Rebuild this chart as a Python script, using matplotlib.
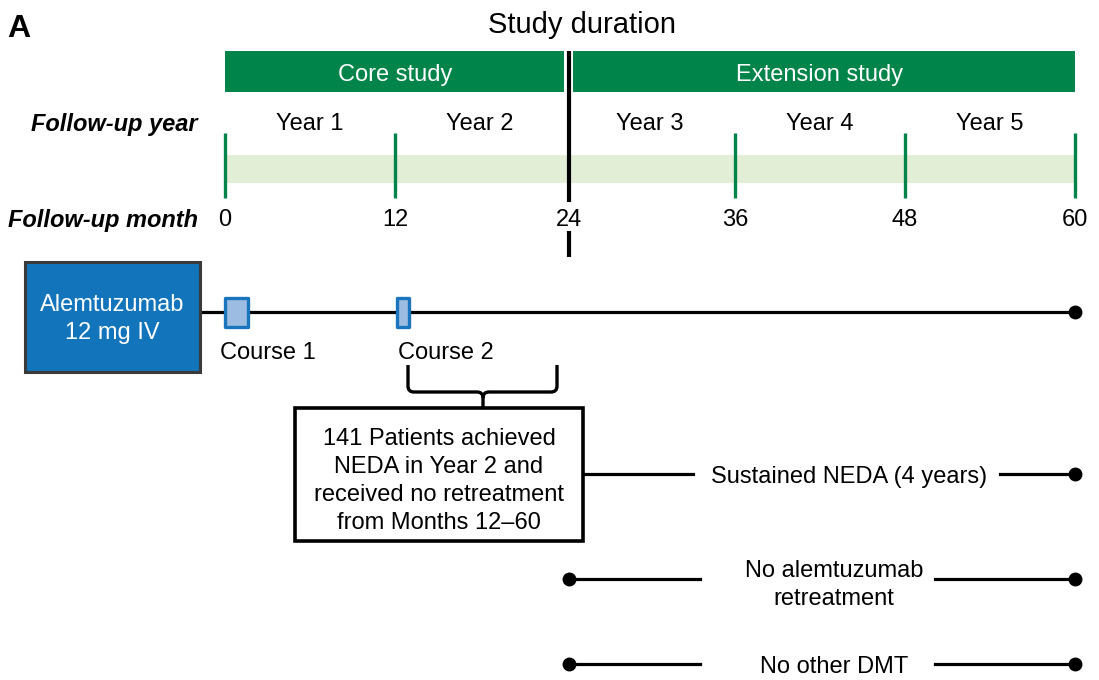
import matplotlib
matplotlib.use('Agg')
import matplotlib.pyplot as plt
from matplotlib.patches import Rectangle, PathPatch
from matplotlib.path import Path

plt.rcParams['font.family'] = ['Liberation Sans', 'DejaVu Sans']

# ---- data ----
month_ticks = [0, 12, 24, 36, 48, 60]
year_labels = ['Year 1', 'Year 2', 'Year 3', 'Year 4', 'Year 5']
phase_labels = ['Core study', 'Extension study']
phase_start = [0, 24]
phase_end = [24, 60]
course_labels = ['Course 1', 'Course 2']
course_start = [0, 12.15]
course_len = [1.6, 0.85]
outcome_labels = ['Sustained NEDA (4 years)', 'No alemtuzumab\nretreatment', 'No other DMT']
box_text = '141 Patients achieved\nNEDA in Year 2 and\nreceived no retreatment\nfrom Months 12\u201360'
divider_month = 24

# ---- styling / layout helpers ----
DARK_GREEN = '#00844A'
LIGHT_GREEN = '#E2EFD6'
BLUE = '#1274BB'
FS = 17
PX_PER_MONTH = 850 / 60
DY = 3  # vertical text offset


def px(x):
    """convert a horizontal pixel position of the layout into months"""
    return (x - 225) / PX_PER_MONTH


fig = plt.figure(figsize=(10.99, 6.8), dpi=100)
ax = fig.add_axes([0, 0, 1, 1])
ax.set_xlim(px(0), px(1099))
ax.set_ylim(680, 0)
ax.axis('off')

div_x = divider_month + 0.25

# titles
ax.text(px(7), 29, 'A', fontsize=23, fontweight='bold', ha='left', va='center')
ax.text(px(582), 22 + DY, 'Study duration', fontsize=21, ha='center', va='center')

# phase bars
for lab, s, e in zip(phase_labels, phase_start, phase_end):
    left = s if s == 0 else s + 0.55
    right = e if e == 60 else e - 0.05
    ax.add_patch(Rectangle((left, 51), right - left, 41, fc=DARK_GREEN, ec='none', zorder=2))
    ax.text((s + e) / 2, 72 + DY, lab, color='white', fontsize=FS, ha='center', va='center', zorder=3)

# year labels
years_mid = [(a + b) / 2 for a, b in zip(month_ticks[:-1], month_ticks[1:])]
for lab, m in zip(year_labels, years_mid):
    ax.text(m, 121 + DY, lab, fontsize=FS, ha='center', va='center')
ax.text(px(198), 121 + DY, 'Follow-up year', fontsize=FS, fontweight='bold', style='italic',
        ha='right', va='center')
ax.text(px(198), 217 + DY, 'Follow-up month', fontsize=FS, fontweight='bold', style='italic',
        ha='right', va='center')

# band + ticks
ax.add_patch(Rectangle((month_ticks[0], 155), month_ticks[-1] - month_ticks[0], 28,
                       fc=LIGHT_GREEN, ec='none', zorder=1))
for m in month_ticks:
    if m != divider_month:
        ax.plot([m, m], [133, 198], color=DARK_GREEN, lw=2.4, solid_capstyle='butt', zorder=2)
        ax.text(m, 217 + DY, str(m), fontsize=FS, ha='center', va='center')
    else:
        ax.text(div_x, 217 + DY, str(m), fontsize=FS, ha='center', va='center')

# divider line
ax.plot([div_x, div_x], [51, 202], color='black', lw=3.0, solid_capstyle='butt', zorder=4)
ax.plot([div_x, div_x], [231, 257], color='black', lw=3.0, solid_capstyle='butt', zorder=4)

# alemtuzumab box + treatment line
ax.add_patch(Rectangle((px(25), 262), px(200) - px(25), 110, fc=BLUE, ec='#3a3a3a', lw=2.2, zorder=3))
ax.text((px(25) + px(200)) / 2, 316 + DY, 'Alemtuzumab\n12 mg IV', color='white', fontsize=FS,
        ha='center', va='center', linespacing=1.35, zorder=4)
ax.plot([px(200), month_ticks[-1]], [312, 312], color='black', lw=2.3, zorder=2)
ax.plot(month_ticks[-1], 312, 'o', color='black', ms=9, zorder=3)

course_label_shift = [-0.35, 0.05]
for lab, s, l, sh in zip(course_labels, course_start, course_len, course_label_shift):
    ax.add_patch(Rectangle((s, 298), l, 29, fc='#9CBCE2', ec='#1B75BC', lw=2.4,
                           joinstyle='round', zorder=4))
    ax.text(s + sh, 350 + DY, lab, fontsize=FS, ha='left', va='center')

# brace
r = 6
L, R, M, T, B, TIP = 408, 557, 483, 365, 392, 407
verts = [
    (L, T), (L, B - r), (L, B), (L + r, B), (M - r, B), (M, B), (M, B + r), (M, TIP),
    (M, B + r), (M, B), (M + r, B), (R - r, B), (R, B), (R, B - r), (R, T),
]
codes = [Path.MOVETO, Path.LINETO, Path.CURVE3, Path.CURVE3, Path.LINETO, Path.CURVE3, Path.CURVE3,
         Path.LINETO, Path.MOVETO, Path.CURVE3, Path.CURVE3, Path.LINETO, Path.CURVE3, Path.CURVE3,
         Path.LINETO]
verts = [(px(x), y) for x, y in verts]
ax.add_patch(PathPatch(Path(verts, codes), fc='none', ec='black', lw=2.4, capstyle='butt'))

# NEDA box
ax.add_patch(Rectangle((px(295), 408), px(583) - px(295), 133, fc='white', ec='black', lw=2.6, zorder=3))
ax.text((px(295) + px(583)) / 2, 478 + DY, box_text, fontsize=FS, ha='center', va='center',
        linespacing=1.36, zorder=4)

# outcomes
out_y = [474, 579, 664]
text_y = [474, 582, 664]
text_x = [849, 834, 834]
left_start = [px(583), div_x, div_x]
left_end = [693, 700, 700]
right_start = [1000, 935, 935]
for i, lab in enumerate(outcome_labels):
    y = out_y[i]
    ax.plot([left_start[i], px(left_end[i])], [y, y], color='black', lw=2.3, zorder=2)
    ax.plot([px(right_start[i]), month_ticks[-1]], [y, y], color='black', lw=2.3, zorder=2)
    ax.plot(month_ticks[-1], y, 'o', color='black', ms=9, zorder=3)
    if i > 0:
        ax.plot(div_x, y, 'o', color='black', ms=9, zorder=3)
    ax.text(px(text_x[i]), text_y[i] + DY, lab, fontsize=FS, ha='center', va='center',
            linespacing=1.3)

fig.savefig('out.png', dpi=100)
